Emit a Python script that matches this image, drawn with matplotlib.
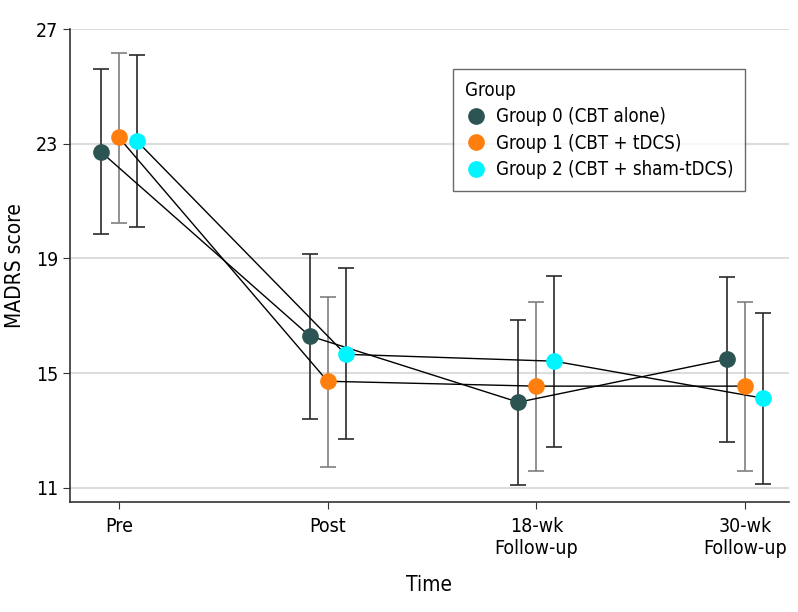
import numpy as np
import matplotlib; matplotlib.use('Agg')
import matplotlib.pyplot as plt
from matplotlib.lines import Line2D

plt.rcParams['font.family'] = ['DejaVu Sans']
plt.rcParams['font.stretch'] = 'condensed'

times = ['Pre', 'Post', '18-wk\nFollow-up', '30-wk\nFollow-up']
groups = ['Group 0 (CBT alone)', 'Group 1 (CBT + tDCS)', 'Group 2 (CBT + sham-tDCS)']

g0_mean = [22.72, 16.30, 13.99, 15.49]
g0_lo = [19.85, 13.41, 11.11, 12.59]
g0_hi = [25.61, 19.16, 16.86, 18.37]

g1_mean = [23.22, 14.72, 14.55, 14.55]
g1_lo = [20.25, 11.74, 11.58, 11.58]
g1_hi = [26.15, 17.65, 17.48, 17.48]

g2_mean = [23.10, 15.66, 15.42, 14.13]
g2_lo = [20.11, 12.71, 12.42, 11.14]
g2_hi = [26.08, 18.67, 18.40, 17.10]

means = [g0_mean, g1_mean, g2_mean]
lows = [g0_lo, g1_lo, g2_lo]
highs = [g0_hi, g1_hi, g2_hi]

colors = ['#2b5452', '#ff7f0e', '#00f5ff']
bar_colors = ['#2a2a2a', '#7f7f7f', '#2a2a2a']
offsets = [-0.086, 0.0, 0.086]

fig = plt.figure(figsize=(7.98, 6.12), dpi=100)
ax = fig.add_axes([0.0877, 0.1797, 0.901, 0.7729])

x = np.arange(len(times))
for m, lo, hi, c, bc, off in zip(means, lows, highs, colors, bar_colors, offsets):
    m = np.array(m); lo = np.array(lo); hi = np.array(hi)
    xs = x + off
    ax.errorbar(xs, m, yerr=[m - lo, hi - m], fmt='none', ecolor=bc,
                elinewidth=1.2, capsize=6, capthick=1.2, zorder=2)
    ax.plot(xs, m, color='black', lw=1.0, zorder=3)
    ax.plot(xs, m, 'o', color=c, ms=11, mec=c, zorder=4)

for yv in [11, 15, 19, 23, 27]:
    ax.axhline(yv, color='#dcdcdc', lw=1.5, zorder=0)

ax.set_xlim(-0.234, 3.21)
ax.set_ylim(10.51, 27)
ax.set_yticks([11, 15, 19, 23, 27])
ax.set_xticks(x)
ax.set_xticklabels(times, fontsize=14, linespacing=1.2)
ax.tick_params(axis='y', labelsize=14, length=5, color='#333333')
ax.tick_params(axis='x', length=5, color='#333333', pad=6)
for s in ['top', 'right']:
    ax.spines[s].set_visible(False)
for s in ['left', 'bottom']:
    ax.spines[s].set_color('#333333')
    ax.spines[s].set_linewidth(1.2)

ax.set_ylabel('MADRS score', fontsize=15, labelpad=8)
ax.set_xlabel('Time', fontsize=15, labelpad=12)

handles = [Line2D([], [], marker='o', ls='none', ms=11, color=c, mec=c) for c in colors]
leg = ax.legend(handles, groups, title='Group', loc='upper left',
                bbox_to_anchor=(0.533, 0.915), borderaxespad=0,
                fontsize=13.4, title_fontsize=13.4,
                alignment='left', frameon=True, fancybox=False,
                handletextpad=0.5, labelspacing=0.4, borderpad=0.62,
                handlelength=1.2)
leg.get_frame().set_edgecolor('#444444')
leg.get_frame().set_linewidth(1.0)

fig.savefig('out.png', dpi=100)
